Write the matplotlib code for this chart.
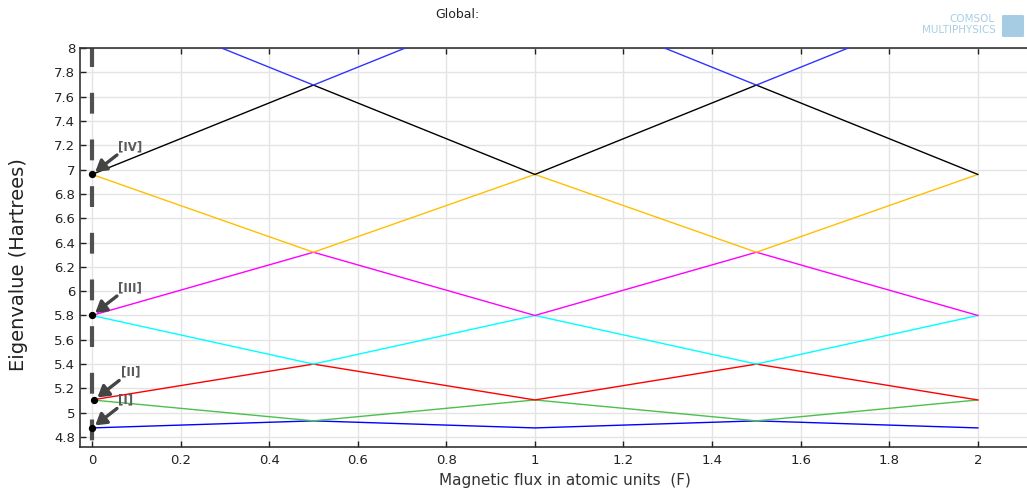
import matplotlib
matplotlib.use("Agg")
import matplotlib.pyplot as plt
from matplotlib.ticker import FuncFormatter, MultipleLocator
from matplotlib.patches import FancyBboxPatch

# ---- data ----
flux = [0.0, 0.5, 1.0, 1.5, 2.0]
eig1 = [4.875, 4.933, 4.875, 4.933, 4.875]
eig2 = [5.105, 4.933, 5.105, 4.933, 5.105]
eig3 = [5.105, 5.400, 5.105, 5.400, 5.105]
eig4 = [5.800, 5.400, 5.800, 5.400, 5.800]
eig5 = [5.800, 6.320, 5.800, 6.320, 5.800]
eig6 = [6.960, 6.320, 6.960, 6.320, 6.960]
eig7 = [6.960, 7.695, 6.960, 7.695, 6.960]
eig8 = [8.430, 7.695, 8.430, 7.695, 8.430]
series = [eig1, eig2, eig3, eig4, eig5, eig6, eig7, eig8]
colors = ["#0000ff", "#4cc04c", "#ff0000", "#00ffff", "#ff00ff", "#ffbf00", "#000000", "#3333ff"]

marker_x = [0.0, 0.005, 0.0, 0.0]
marker_y = [4.875, 5.105, 5.800, 6.960]
marker_labels = ["[I]", "[II]", "[III]", "[IV]"]

fig = plt.figure(figsize=(10.27, 4.9), dpi=100)
ax = fig.add_axes([80/1027, 1-447/490, 1-80/1027, (447-48)/490])

ax.set_xlim(-0.027, 2.111)
ax.set_ylim(4.718, 8.0)

ax.xaxis.set_major_locator(MultipleLocator(0.2))
ax.yaxis.set_major_locator(MultipleLocator(0.2))
fmt = FuncFormatter(lambda v, p: "%g" % round(v, 4))
ax.xaxis.set_major_formatter(fmt)
ax.yaxis.set_major_formatter(fmt)
ax.grid(True, color="#e4e4e4", lw=1.0, zorder=0)
ax.set_axisbelow(True)

for s, c in zip(series, colors):
    ax.plot(flux, s, color=c, lw=1.0, zorder=3)

# vertical dashed line at x=0
ax.axvline(0, color="#505050", lw=3.0, linestyle=(9.6, (5.0, 6.2)), zorder=2)

ax.scatter(marker_x, marker_y, s=18, color="black", zorder=5)

for xm, ym, lab in zip(marker_x, marker_y, marker_labels):
    ax.annotate("", xy=(xm, ym), xytext=(18, 14), textcoords="offset points",
                arrowprops=dict(arrowstyle="-|>,head_length=0.65,head_width=0.4",
                                color="#444444", lw=2.4, shrinkA=0, shrinkB=3),
                zorder=6)
    ax.annotate(lab, xy=(xm, ym), xytext=(19, 20), textcoords="offset points",
                fontsize=8.5, color="#5a5a5a", fontweight="bold", va="center",
                ha="left", zorder=6)

ax.spines["right"].set_visible(False)
for sp in ["left", "bottom", "top"]:
    ax.spines[sp].set_color("#333333")
    ax.spines[sp].set_linewidth(1.2)

ax.tick_params(axis="both", direction="in", length=4, width=1, labelsize=9.5,
               colors="#222222", top=True, right=False)
ax.tick_params(axis="x", pad=5)

ax.set_ylabel("Eigenvalue (Hartrees)", fontsize=14, color="#222222")
ax.yaxis.set_label_coords(-0.0549, 0.456)
ax.set_xlabel("Magnetic flux in atomic units  (F)", fontsize=11, color="#333333")
ax.xaxis.set_label_coords((565 - 80) / 947, (447 - 480) / 399)
ax.xaxis.label.set_va("center")

fig.text(457/1027, 1-14/490, "Global:", fontsize=9, color="#222222", ha="center", va="center")

# logo
fig.text(995/1027, 1-19/490, "COMSOL", fontsize=7.5, color="#a9cfe4", ha="right", va="center")
fig.text(996/1027, 1-30/490, "MULTIPHYSICS", fontsize=7.5, color="#a9cfe4", ha="right", va="center")
fig.patches.append(FancyBboxPatch((1004/1027, 1-36/490), 18/1027, 20/490,
                                  boxstyle="round,pad=0.002", transform=fig.transFigure,
                                  facecolor="#8fc0dc", edgecolor="none", alpha=0.8))

fig.savefig("out.png", dpi=100)
